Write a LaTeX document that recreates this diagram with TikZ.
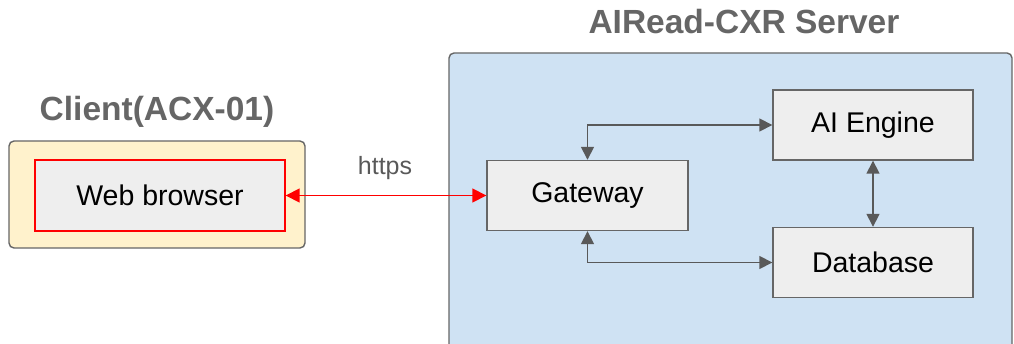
\documentclass[tikz,border=0pt]{standalone}
\usepackage{fontspec}
\setmainfont{Liberation Sans}
\usetikzlibrary{arrows.meta}
\definecolor{txtgray}{HTML}{666666}
\definecolor{linegray}{HTML}{595959}
\definecolor{boxgray}{HTML}{EEEEEE}
\definecolor{clientfill}{HTML}{FFF2CC}
\definecolor{serverfill}{HTML}{CFE2F3}
\begin{document}
\begin{tikzpicture}[x=1pt,y=-1pt,
  container/.style={draw=txtgray,line width=1.4pt,rounded corners=5pt},
  compbox/.style={draw=txtgray,fill=boxgray,line width=1.4pt,minimum width=200pt,minimum height=70pt,inner sep=0pt,font=\fontsize{28.5}{32}\selectfont},
  title/.style={text=txtgray,font=\fontsize{33.5}{38}\selectfont\bfseries},
  conn/.style={draw=linegray,line width=1.6pt,{Triangle[length=13pt,width=13pt]}-{Triangle[length=13pt,width=13pt]}},
  redconn/.style={draw=red,line width=1.6pt,{Triangle[length=14pt,width=14pt]}-{Triangle[length=14pt,width=14pt]}}]
\useasboundingbox (0,0) rectangle (1014,344);
\clip (0,0) rectangle (1014,344);
% containers
\draw[container,fill=clientfill] (9,141) rectangle (305,248);
\draw[container,fill=serverfill] (449,53) rectangle (1012,380);
\node[title] (tclient) at (157,112) {Client(ACX-01)};
\node[title] (tserver) at (744,22) {AIRead-CXR Server};
% components
\node[compbox,draw=red,minimum width=250pt,minimum height=71pt] (web) at (160,195.5) {Web browser};
\node[compbox,minimum width=201pt] (gw) at (587.5,195.5) {Gateway};
\node[compbox] (ai) at (873,125) {AI Engine};
\node[compbox] (db) at (873,262.5) {Database};
% connectors
\draw[redconn] (web.east) -- (gw.west);
\node[text=linegray,font=\fontsize{25}{29}\selectfont] (https) at (385,168) {https};
\draw[conn] (gw.north) |- (ai.west);
\draw[conn] (gw.south) |- (db.west);
\draw[conn] (ai.south) -- (db.north);
\end{tikzpicture}
\end{document}
